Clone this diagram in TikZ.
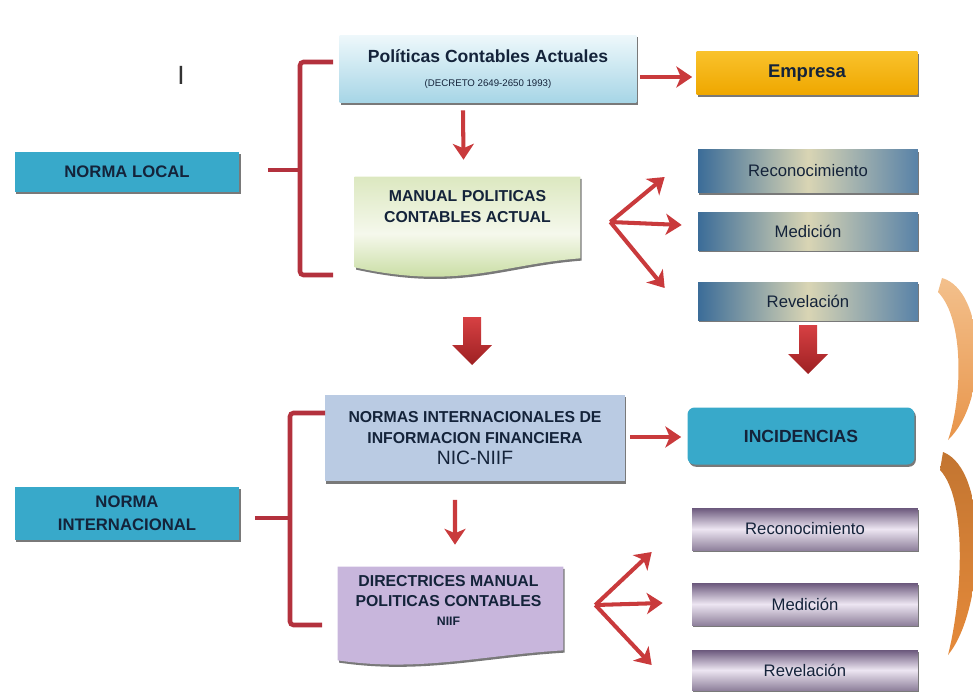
\documentclass[tikz,border=0pt]{standalone}
\usepackage{fontspec}
\setmainfont{Liberation Sans}
\usetikzlibrary{arrows.meta,positioning,calc,shadows}

\definecolor{cyanfill}{HTML}{38A9CA}
\definecolor{boxtext}{HTML}{14233A}
\definecolor{emptop}{HTML}{F9C22B}
\definecolor{empbot}{HTML}{EFA700}
\definecolor{politop}{HTML}{EEF8FB}
\definecolor{polibot}{HTML}{A6D5E6}
\definecolor{mantop}{HTML}{DCE8C0}
\definecolor{manmid}{HTML}{F5F8EC}
\definecolor{manbot}{HTML}{BDD68F}
\definecolor{barblue}{HTML}{3B6C98}
\definecolor{bartan}{HTML}{D9D5B4}
\definecolor{purpdark}{HTML}{6B587C}
\definecolor{purplight}{HTML}{EDE6F2}
\definecolor{normasfill}{HTML}{BACBE3}
\definecolor{dirfill}{HTML}{C8B6DC}
\definecolor{arrowred}{HTML}{C93A3C}
\definecolor{blockred}{HTML}{D22B2E}
\definecolor{brackred}{HTML}{B3313D}
\definecolor{orangelight}{HTML}{F3C08C}
\definecolor{orangedeep}{HTML}{E58A3A}

\tikzset{
  boxshadow/.style={drop shadow={shadow xshift=0.8pt, shadow yshift=-1.3pt, fill=black!70, opacity=.75}},
  labelbox/.style={rectangle, inner sep=2pt, text=boxtext},
  cyanbox/.style={labelbox, fill=cyanfill, minimum width=4.5cm, boxshadow,
    font=\bfseries\fontsize{9.5}{13}\selectfont, align=center},
  bluebar/.style={labelbox, left color=barblue, right color=barblue!85!white, middle color=bartan,
    minimum width=4.4cm, boxshadow, font=\fontsize{9.5}{11}\selectfont},
  purplebar/.style={labelbox, top color=purpdark, bottom color=purpdark!75!white, middle color=purplight,
    minimum width=4.52cm, boxshadow, font=\fontsize{9.5}{11}\selectfont},
  boldtext/.style={text=boxtext, font=\bfseries\fontsize{9}{11.5}\selectfont, align=center},
  redarrow/.style={draw=arrowred, line width=2.3pt, -{Stealth[length=9pt,width=12pt,inset=2.5pt]}},
  bracketline/.style={draw=brackred, line width=2.6pt, rounded corners=2pt},
  pics/blockdown/.style={code={
    \path[top color=blockred!90!white, bottom color=blockred!75!black]
      (-9,0) -- (9,0) -- (9,#1-20) -- (20,#1-20) -- (0,#1) -- (-20,#1-20) -- (-9,#1-20) -- cycle;
  }},
}

\begin{document}
\begin{tikzpicture}[x=0.02cm, y=-0.02cm]
\useasboundingbox (0,0) rectangle (973,693);

% mark near the top left
\node[font=\fontsize{15}{15}\selectfont, text=black!80] (cursor) at (181,75) {I};

% ---------- norma local ----------
\node[cyanbox, minimum height=0.8cm] (normaLocal) at (127,172) {NORMA LOCAL};

\node[labelbox, top color=politop, bottom color=polibot, minimum width=5.94cm, minimum height=1.36cm,
  boxshadow, align=center] (politicas) at (488,69)
  {\bfseries\fontsize{10}{12}\selectfont Políticas Contables Actuales\\[2pt]
   \fontsize{5.5}{6}\selectfont\mdseries (DECRETO 2649-2650 1993)};
\node[labelbox, top color=emptop, bottom color=empbot, minimum width=4.42cm, minimum height=0.86cm,
  boxshadow, font=\bfseries\fontsize{10.5}{12}\selectfont] (empresa) at (807,73) {Empresa};

% document shape behind the manual text
\node[minimum width=4.5cm, minimum height=1.62cm, inner sep=0pt] (manual) at (467.5,217.5) {};
\path[top color=mantop, bottom color=manbot, middle color=manmid, boxshadow]
  (manual.north west) -- (manual.north east) -- (manual.south east)
  .. controls ($(manual.south east)+(-80,6)$) and ($(manual.south west)+(105,32)$) .. ($(manual.south west)+(0,9)$) -- cycle;
\node[boldtext] (manualtxt) at ($(manual)+(0,-11)$) {MANUAL POLITICAS\\CONTABLES ACTUAL};

\node[bluebar, minimum height=0.86cm] (reco1) at (808,171) {Reconocimiento};
\node[bluebar, minimum height=0.76cm] (medi1) at (808,231) {Medición};
\node[bluebar, minimum height=0.76cm] (reve1) at (808,301) {Revelación};

% bracket
\coordinate (b1) at (300,170);
\draw[bracketline] (333,62) -- (300,62) -- (300,275) -- (333,275);
\draw[bracketline] ($(normaLocal.east)+(28,-2)$) -- (b1);

\draw[redarrow] ($(politicas.east)+(3,8)$) -- ($(empresa.west)+(-4,4)$);
\draw[redarrow] ($(politicas.south)+(-25,7)$) -- ($(manual.north)+(-4,-17)$);

% fan to the three bars
\coordinate (fan1) at ($(manual.east)+(30,4.5)$);
\draw[redarrow] (fan1) -- ($(reco1.west)+(-33,6)$);
\draw[redarrow] (fan1) -- ($(medi1.west)+(-16,-6)$);
\draw[redarrow] (fan1) -- ($(reve1.west)+(-33,-13)$);

% block arrows
\coordinate (big1) at (472,317);
\coordinate (big2) at (808,325);
\pic at (big1) {blockdown=48};
\pic at (big2) {blockdown=49};

% ---------- norma internacional ----------
\node[cyanbox, minimum height=1.06cm] (normaInt) at (127,513) {NORMA\\INTERNACIONAL};

\node[labelbox, fill=normasfill, minimum width=6cm, minimum height=1.74cm, boxshadow, align=center] (normas) at (475,438)
  {\bfseries\fontsize{9}{11.3}\selectfont NORMAS INTERNACIONALES DE\\
   \bfseries\fontsize{9}{11.3}\selectfont INFORMACION FINANCIERA\\
   \mdseries\fontsize{11}{12}\selectfont NIC-NIIF};
\node[labelbox, fill=cyanfill, rounded corners=4pt, minimum width=4.54cm, minimum height=1.14cm, boxshadow,
  font=\bfseries\fontsize{10}{12}\selectfont] (incid) at (801,436) {INCIDENCIAS};

\node[minimum width=4.5cm, minimum height=1.66cm, inner sep=0pt] (direct) at (450.5,608.5) {};
\path[fill=dirfill, boxshadow]
  (direct.north west) -- (direct.north east) -- (direct.south east)
  .. controls ($(direct.south east)+(-83,5)$) and ($(direct.south west)+(82,22)$) .. ($(direct.south west)+(0,10)$) -- cycle;
\node[boldtext, font=\bfseries\fontsize{9}{11}\selectfont] (directtxt) at ($(direct)+(-2,-8)$)
  {DIRECTRICES MANUAL\\POLITICAS CONTABLES\\{\fontsize{7}{8}\selectfont NIIF}};

\node[purplebar, minimum height=0.84cm] (reco2) at (805,529) {Reconocimiento};
\node[purplebar, minimum height=0.84cm] (medi2) at (805,604) {Medición};
\node[purplebar, minimum height=0.8cm] (reve2) at (805,670) {Revelación};

% bracket
\coordinate (b2) at (290,518);
\draw[bracketline] (325,413) -- (290,413) -- (290,625) -- (322,625);
\draw[bracketline] ($(normaInt.east)+(15,5)$) -- (b2);

\draw[redarrow] ($(normas.east)+(5,-1)$) -- ($(incid.west)+(-6,1)$);
\draw[redarrow] ($(normas.south)+(-20,18)$) -- ($(direct.north)+(4.5,-22)$);

% fan to the three bars
\coordinate (fan2) at ($(direct.east)+(32,-3.5)$);
\draw[redarrow] (fan2) -- ($(reco2.west)+(-40,23)$);
\draw[redarrow] (fan2) -- ($(medi2.west)+(-29,-1)$);
\draw[redarrow] (fan2) -- ($(reve2.west)+(-40,-5)$);

% curved arrows at the right edge
\path[top color=orangelight, bottom color=orangedeep!80!orangelight]
  (942,278) .. controls (985,290) and (990,400) .. (948,440)
  .. controls (962,400) and (965,320) .. (938,292) -- cycle;
\path[top color=orangedeep!85!black, bottom color=orangedeep]
  (943,452) .. controls (990,470) and (985,610) .. (948,655)
  .. controls (962,600) and (968,500) .. (940,470) -- cycle;
\end{tikzpicture}
\end{document}
